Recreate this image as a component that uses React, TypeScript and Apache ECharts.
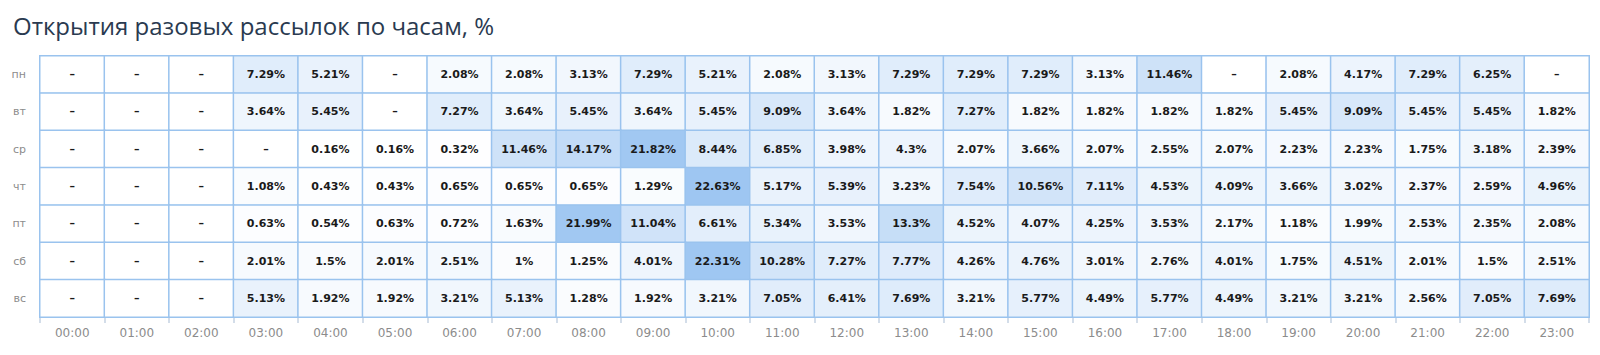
import React, { useEffect, useRef } from "react";
import * as echarts from "echarts";

const TITLE = "Открытия разовых рассылок по часам, %";

const HOURS = [
  "00:00", "01:00", "02:00", "03:00", "04:00", "05:00", "06:00", "07:00",
  "08:00", "09:00", "10:00", "11:00", "12:00", "13:00", "14:00", "15:00",
  "16:00", "17:00", "18:00", "19:00", "20:00", "21:00", "22:00", "23:00",
];

const DAYS = ["пн", "вт", "ср", "чт", "пт", "сб", "вс"];

const N = null;
const MON = [N, N, N, 7.29, 5.21, N, 2.08, 2.08, 3.13, 7.29, 5.21, 2.08, 3.13, 7.29, 7.29, 7.29, 3.13, 11.46, N, 2.08, 4.17, 7.29, 6.25, N];
const TUE = [N, N, N, 3.64, 5.45, N, 7.27, 3.64, 5.45, 3.64, 5.45, 9.09, 3.64, 1.82, 7.27, 1.82, 1.82, 1.82, 1.82, 5.45, 9.09, 5.45, 5.45, 1.82];
const WED = [N, N, N, N, 0.16, 0.16, 0.32, 11.46, 14.17, 21.82, 8.44, 6.85, 3.98, 4.3, 2.07, 3.66, 2.07, 2.55, 2.07, 2.23, 2.23, 1.75, 3.18, 2.39];
const THU = [N, N, N, 1.08, 0.43, 0.43, 0.65, 0.65, 0.65, 1.29, 22.63, 5.17, 5.39, 3.23, 7.54, 10.56, 7.11, 4.53, 4.09, 3.66, 3.02, 2.37, 2.59, 4.96];
const FRI = [N, N, N, 0.63, 0.54, 0.63, 0.72, 1.63, 21.99, 11.04, 6.61, 5.34, 3.53, 13.3, 4.52, 4.07, 4.25, 3.53, 2.17, 1.18, 1.99, 2.53, 2.35, 2.08];
const SAT = [N, N, N, 2.01, 1.5, 2.01, 2.51, 1, 1.25, 4.01, 22.31, 10.28, 7.27, 7.77, 4.26, 4.76, 3.01, 2.76, 4.01, 1.75, 4.51, 2.01, 1.5, 2.51];
const SUN = [N, N, N, 5.13, 1.92, 1.92, 3.21, 5.13, 1.28, 1.92, 3.21, 7.05, 6.41, 7.69, 3.21, 5.77, 4.49, 5.77, 4.49, 3.21, 3.21, 2.56, 7.05, 7.69];

const ROWS = [MON, TUE, WED, THU, FRI, SAT, SUN];

export default function App() {
  const ref = useRef<HTMLDivElement>(null);

  useEffect(() => {
    if (!ref.current) return;
    const chart = echarts.init(ref.current, null, { renderer: "svg" });

    const data: any[] = [];
    ROWS.forEach((row, y) => {
      row.forEach((v, x) => {
        data.push({ value: [x, y, v === null ? 0 : v], empty: v === null });
      });
    });
    const maxVal = Math.max(...ROWS.flat().filter((v) => v !== null) as number[]);

    chart.setOption({
      animation: false,
      backgroundColor: "#ffffff",
      title: {
        text: TITLE,
        left: 8,
        top: 8,
        textStyle: {
          fontFamily: "Open Sans",
          fontSize: 24,
          fontWeight: "normal",
          color: "#2a3a50",
        },
      },
      grid: { left: 40, top: 56, width: 1549, height: 261, containLabel: false },
      xAxis: {
        type: "category",
        data: HOURS,
        position: "bottom",
        axisLine: { show: false },
        axisTick: { show: true, length: 6, lineStyle: { color: "#d3dde9", width: 2 } },
        axisLabel: { color: "#8c8c8c", fontSize: 12, fontFamily: "DejaVu Sans", margin: 10 },
        splitLine: { show: false },
      },
      yAxis: {
        type: "category",
        data: DAYS,
        inverse: true,
        axisLine: { show: false },
        axisTick: { show: false },
        axisLabel: { color: "#8c8c8c", fontSize: 11, fontFamily: "DejaVu Sans", margin: 14 },
        splitLine: { show: false },
      },
      visualMap: {
        show: false,
        min: 0,
        max: maxVal,
        dimension: 2,
        inRange: { color: ["#ffffff", "#9ec6f2"] },
      },
      series: [
        {
          type: "heatmap",
          data,
          itemStyle: { borderColor: "#9ac3ee", borderWidth: 1.5 },
          label: {
            show: true,
            fontFamily: "DejaVu Sans",
            fontSize: 11,
            fontWeight: "bold",
            color: "#1a1a1a",
            formatter: (p: any) => (p.data.empty ? "–" : p.data.value[2] + "%"),
          },
          emphasis: { disabled: true },
        },
      ],
    });

    return () => chart.dispose();
  }, []);

  return (
    <div
      ref={ref}
      style={{ position: "fixed", left: 0, top: 0, width: 1600, height: 355 }}
    />
  );
}
